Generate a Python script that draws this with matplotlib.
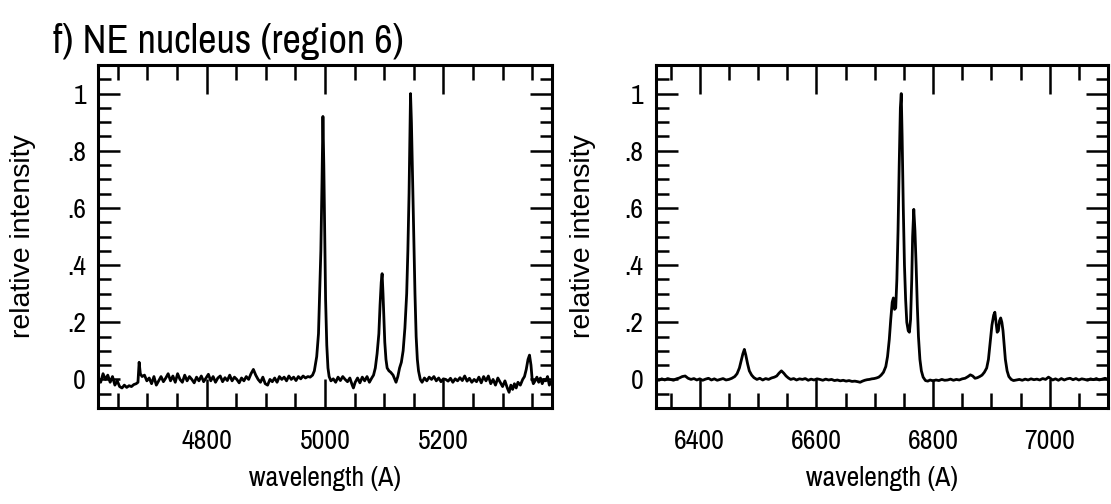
import matplotlib
matplotlib.use("Agg")
import matplotlib.pyplot as plt
from matplotlib.ticker import MultipleLocator, FixedLocator, FixedFormatter

plt.rcParams['font.family'] = ['Archivo Narrow', 'Liberation Sans', 'DejaVu Sans']

title = "f) NE nucleus (region 6)"
xlabel = "wavelength (A)"
ylabel = "relative intensity"

ytick_vals = [0, 0.2, 0.4, 0.6, 0.8, 1.0]
ytick_labels = ["0", ".2", ".4", ".6", ".8", "1"]

# blue side spectrum (wavelength in A, relative intensity)
wl_blue = [
    4617, 4621, 4625, 4629, 4633, 4637, 4641, 4645, 4649, 4653, 4657, 4661, 4665, 4669,
    4673, 4677, 4681, 4684, 4686, 4688, 4691, 4695, 4699, 4703, 4707, 4711, 4715, 4719,
    4723, 4727, 4731, 4735, 4739, 4743, 4747, 4751, 4755, 4759, 4763, 4767, 4771, 4775,
    4779, 4783, 4787, 4791, 4795, 4799, 4803, 4807, 4811, 4815, 4819, 4823, 4827, 4831,
    4835, 4839, 4843, 4847, 4851, 4855, 4859, 4863, 4867, 4871, 4875, 4879, 4883, 4887,
    4891, 4895, 4899, 4903, 4907, 4911, 4915, 4919, 4923, 4927, 4931, 4935, 4939, 4943,
    4947, 4951, 4955, 4959, 4963, 4967, 4971, 4975, 4979,
    4982, 4986, 4989, 4991, 4993, 4995, 4996.5, 4998, 4999.5, 5001, 5003, 5005, 5007,
    5010, 5014, 5018, 5022, 5026, 5030, 5034, 5038, 5042, 5046, 5048, 5051, 5055, 5059,
    5063, 5067, 5071, 5075, 5079, 5082, 5085, 5088, 5091, 5093, 5095, 5096.5, 5098,
    5099.5, 5101, 5103, 5105, 5108, 5111, 5115, 5118, 5120, 5123, 5126, 5129, 5132, 5135,
    5138, 5140, 5142, 5143.5, 5144.5, 5146, 5148, 5150, 5152, 5154, 5156, 5158, 5161,
    5164, 5168, 5172, 5176, 5180, 5184, 5188, 5192, 5196, 5200, 5204, 5208, 5212, 5216,
    5220, 5224, 5228, 5232, 5236, 5240, 5244, 5248, 5252, 5256, 5260, 5264, 5268, 5272,
    5276, 5280, 5284, 5288, 5292, 5296, 5300, 5304, 5308, 5311, 5314, 5317, 5320, 5323,
    5326, 5330, 5334, 5337, 5340, 5343, 5345.5, 5348, 5350, 5352, 5355, 5358, 5361, 5364,
    5367, 5370, 5373, 5376, 5379, 5383,
]
flux_blue = [
    0.005, -0.01, 0.02, 0.0, 0.015, -0.01, 0.01, -0.02, -0.005, -0.025, -0.03, -0.02, -0.028, -0.022,
    -0.025, -0.018, -0.015, -0.01, 0.06, 0.02, 0.01, 0.015, -0.005, 0.005, -0.015, 0.01, -0.02, -0.005,
    0.01, -0.008, 0.005, 0.02, -0.005, 0.012, -0.01, 0.02, 0.0, -0.01, 0.015, -0.005, 0.01, 0.0,
    -0.012, 0.008, -0.005, 0.012, -0.008, 0.005, 0.018, -0.005, 0.01, -0.01, 0.005, 0.012, -0.008, 0.006,
    -0.004, 0.015, -0.005, 0.008, 0.0, -0.012, 0.005, -0.005, 0.01, 0.0, 0.02, 0.035, 0.015, 0.0,
    -0.01, 0.008, -0.015, -0.02, 0.0, -0.008, 0.005, -0.01, 0.01, 0.0, 0.008, -0.005, 0.012, 0.0,
    0.008, -0.004, 0.01, 0.002, 0.012, 0.005, 0.01, 0.008, 0.015,
    0.03, 0.08, 0.16, 0.3, 0.45, 0.7, 0.92, 0.75, 0.5, 0.28, 0.12, 0.04, 0.01,
    -0.005, 0.002, -0.01, 0.008, -0.004, 0.01, 0.0, -0.008, 0.005, -0.02, -0.03, -0.01, 0.005, -0.012,
    0.008, -0.005, 0.01, -0.01, 0.005, 0.015, 0.04, 0.09, 0.16, 0.26, 0.34, 0.37, 0.3,
    0.22, 0.13, 0.07, 0.04, 0.03, 0.025, 0.015, 0.0, -0.01, 0.01, 0.04, 0.06, 0.1, 0.18,
    0.3, 0.45, 0.65, 0.85, 1.0, 0.9, 0.7, 0.5, 0.3, 0.15, 0.07, 0.03, 0.0,
    -0.01, 0.005, -0.005, 0.008, 0.0, 0.01, -0.005, 0.005, -0.008, 0.002, 0.0, -0.006, 0.004, -0.01,
    0.002, -0.005, 0.006, -0.004, 0.012, -0.006, 0.004, -0.01, 0.0, -0.008, 0.008, -0.012, 0.01, -0.005,
    0.012, -0.015, 0.0, -0.02, 0.005, -0.01, -0.025, -0.005, -0.03, -0.045, -0.02, -0.035, -0.015, -0.03,
    -0.01, -0.02, 0.0, 0.01, 0.035, 0.07, 0.085, 0.05, 0.0, -0.015, -0.005, 0.008, -0.01, 0.005,
    -0.015, 0.0, -0.005, 0.01, -0.02, -0.005,
]

# red side spectrum
wl_red = [
    6325, 6330, 6335, 6340, 6345, 6350, 6355, 6360, 6365, 6370, 6375, 6380, 6385, 6390,
    6395, 6400, 6405, 6410, 6415, 6420, 6425, 6430, 6435, 6440, 6445, 6450, 6455, 6460,
    6464, 6468, 6471, 6474, 6476.5, 6479, 6482, 6485, 6489, 6493, 6498, 6503, 6508, 6513,
    6518, 6523, 6528, 6532, 6536, 6540, 6544, 6548, 6552, 6556, 6561, 6566, 6571, 6576,
    6581, 6586, 6591, 6596, 6601, 6606, 6611, 6616, 6621, 6626, 6631, 6636, 6641, 6646,
    6651, 6656, 6661, 6666, 6671, 6675, 6679, 6683, 6687, 6691, 6695, 6699, 6703, 6707,
    6711, 6715, 6719, 6722, 6725, 6727.5, 6730, 6732, 6734, 6736, 6738, 6740, 6742, 6744,
    6745.5, 6747, 6749, 6751, 6753, 6755, 6757.5, 6759.5, 6761.5, 6763.5, 6765, 6767, 6769,
    6771, 6773, 6775, 6777.5, 6780, 6783, 6787, 6791, 6795, 6800, 6805, 6810, 6815, 6820,
    6825, 6830, 6835, 6840, 6845, 6850, 6855, 6860, 6864, 6868, 6872, 6876, 6880, 6884,
    6888, 6892, 6895, 6898, 6901, 6904, 6906, 6908, 6910, 6912, 6914, 6916, 6918, 6920,
    6922, 6924, 6927, 6930, 6934, 6938, 6943, 6948, 6953, 6958, 6963, 6968, 6973, 6978,
    6983, 6988, 6993, 6998, 7001, 7005, 7010, 7015, 7020, 7025, 7030, 7035, 7040, 7045,
    7050, 7055, 7060, 7065, 7070, 7075, 7080, 7085, 7090, 7095, 7100,
]
flux_red = [
    0.0, -0.003, 0.002, -0.002, 0.003, 0.0, -0.003, 0.002, 0.005, 0.01, 0.012, 0.004, 0.0, 0.003,
    -0.002, 0.002, -0.003, 0.001, 0.004, -0.002, 0.002, -0.003, 0.0, 0.003, -0.002, 0.0, 0.004, 0.01,
    0.02, 0.04, 0.065, 0.09, 0.105, 0.085, 0.055, 0.03, 0.015, 0.006, 0.0, 0.004, -0.002, 0.003,
    0.0, 0.005, 0.008, 0.012, 0.022, 0.03, 0.022, 0.012, 0.005, 0.0, 0.003, -0.002, 0.002, 0.0,
    0.003, -0.003, 0.001, -0.002, 0.002, 0.0, -0.003, 0.001, -0.002, 0.0, -0.004, -0.002, -0.005, -0.003,
    -0.006, -0.004, -0.007, -0.006, -0.008, -0.01, -0.006, -0.003, -0.001, 0.0, 0.002, 0.003, 0.005, 0.008,
    0.015, 0.025, 0.045, 0.08, 0.14, 0.21, 0.27, 0.285, 0.245, 0.25, 0.35, 0.52, 0.75, 0.95,
    1.0, 0.85, 0.6, 0.4, 0.28, 0.2, 0.17, 0.165, 0.21, 0.35, 0.5, 0.595, 0.52,
    0.4, 0.26, 0.15, 0.07, 0.03, 0.008, -0.004, -0.006, -0.002, -0.005, -0.002, -0.004, 0.0, -0.003,
    -0.002, 0.001, -0.003, 0.0, -0.002, 0.002, 0.004, 0.01, 0.016, 0.012, 0.004, 0.006, 0.01, 0.015,
    0.025, 0.04, 0.07, 0.13, 0.19, 0.225, 0.235, 0.2, 0.165, 0.17, 0.205, 0.215, 0.2, 0.17,
    0.12, 0.07, 0.03, 0.01, 0.0, -0.004, -0.002, 0.0, -0.003, 0.001, -0.002, 0.002, -0.001, 0.001,
    -0.002, 0.003, 0.0, 0.008, 0.004, -0.002, 0.002, -0.003, 0.003, -0.002, 0.002, 0.004, -0.001, 0.003,
    -0.002, 0.002, 0.0, -0.003, 0.002, -0.001, 0.003, -0.002, 0.001, 0.004, 0.0,
]

blue_xlim = (4617, 5383)
red_xlim = (6325, 7100)

fig = plt.figure(figsize=(11.11, 5.04), dpi=100)
ax1 = fig.add_axes([98.3 / 1111, 96 / 504, 453.4 / 1111, 343 / 504])
ax2 = fig.add_axes([656 / 1111, 96 / 504, 452 / 1111, 343 / 504])

for ax, wl, flux, xlim in [(ax1, wl_blue, flux_blue, blue_xlim),
                           (ax2, wl_red, flux_red, red_xlim)]:
    ax.plot(wl, flux, color='black', linewidth=2.0)
    ax.set_xlim(*xlim)
    ax.set_ylim(-0.1, 1.1)
    ax.xaxis.set_major_locator(MultipleLocator(200))
    ax.xaxis.set_minor_locator(MultipleLocator(50))
    ax.yaxis.set_major_locator(FixedLocator(ytick_vals))
    ax.yaxis.set_major_formatter(FixedFormatter(ytick_labels))
    ax.yaxis.set_minor_locator(MultipleLocator(0.05))
    ax.tick_params(axis='both', which='both', direction='in', top=True, right=True,
                   width=1.8, colors='black', labelsize=20)
    ax.tick_params(axis='x', which='major', length=21, pad=15)
    ax.tick_params(axis='x', which='minor', length=11)
    ax.tick_params(axis='y', which='major', length=16, pad=9)
    ax.tick_params(axis='y', which='minor', length=9)
    for s in ax.spines.values():
        s.set_linewidth(2.2)
    ax.set_xlabel(xlabel, fontsize=20)
    # vertical text in the scan looks wider, so use the regular-width face here
    ax.set_ylabel(ylabel, fontsize=20.5, family=['Liberation Sans', 'DejaVu Sans'])
    ax.xaxis.set_label_coords(0.5, -0.17)

ax1.yaxis.set_label_coords(-0.137, 0.5)
ax2.yaxis.set_label_coords(-0.133, 0.5)

fig.text(53 / 1111, (504 - 53) / 504, title, fontsize=29, ha='left', va='baseline')

fig.savefig("out.png", dpi=100)
